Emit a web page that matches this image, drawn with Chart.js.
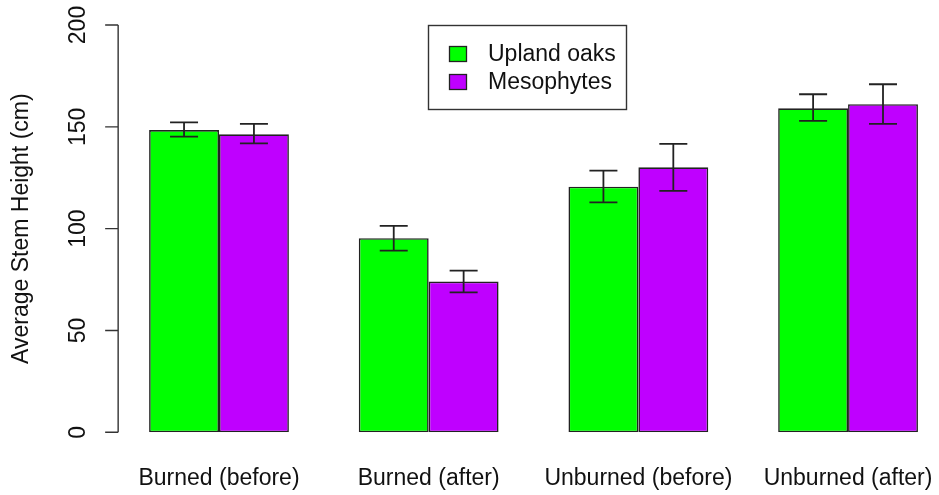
<!DOCTYPE html>
<html>
<head>
<meta charset="utf-8">
<script src="https://cdn.jsdelivr.net/npm/chart.js@4/dist/chart.umd.min.js"></script>
<style>
body{margin:0;overflow:hidden;background:#fff}
</style>
</head>
<body>
<canvas id="barChart" width="980" height="495"></canvas>
<script>
var groups=['Burned (before)','Burned (after)','Unburned (before)','Unburned (after)']
var seriesNames=['Upland oaks','Mesophytes']
var oaks=[148.4,95.3,120.6,159.1]
var oaksLow=[145.2,89.2,112.9,152.9]
var oaksHigh=[152.2,101.4,128.5,166.0]
var meso=[146.3,74.0,130.1,161.1]
var mesoLow=[141.9,68.7,118.5,151.4]
var mesoHigh=[151.4,79.4,141.6,170.9]
var yTicks=[0,50,100,150,200]

var colors=['#00ff00','#bf00ff']
var font="'Liberation Sans', Arial, sans-serif"
var errLow=[oaksLow,mesoLow]
var errHigh=[oaksHigh,mesoHigh]

// R style y axis: line, outward ticks, vertical labels
const rAxis={
	id:'rAxis',
	afterDraw(chart){
		var ctx=chart.ctx
		var y=chart.scales.y
		var x0=y.right+4
		ctx.save()
		ctx.strokeStyle='#333'
		ctx.lineWidth=1.4
		ctx.beginPath()
		ctx.moveTo(x0,y.getPixelForValue(yTicks[0]))
		ctx.lineTo(x0,y.getPixelForValue(yTicks[yTicks.length-1]))
		yTicks.map(v=>{
			var py=y.getPixelForValue(v)
			ctx.moveTo(x0,py)
			ctx.lineTo(x0-13,py)
		})
		ctx.stroke()
		ctx.fillStyle='#111'
		ctx.font='23px '+font
		ctx.textAlign='center'
		ctx.textBaseline='alphabetic'
		yTicks.map(v=>{
			ctx.save()
			ctx.translate(85,y.getPixelForValue(v))
			ctx.rotate(-Math.PI/2)
			ctx.fillText(String(v),0,0)
			ctx.restore()
		})
		ctx.restore()
	}
}

// error bars from the low/high arrays
const errorBars={
	id:'errorBars',
	afterDatasetsDraw(chart){
		var ctx=chart.ctx
		var y=chart.scales.y
		ctx.save()
		ctx.strokeStyle='#222'
		ctx.lineWidth=1.8
		chart.data.datasets.forEach((ds,d)=>{
			chart.getDatasetMeta(d).data.forEach((bar,i)=>{
				var top=y.getPixelForValue(errHigh[d][i])
				var bot=y.getPixelForValue(errLow[d][i])
				ctx.beginPath()
				ctx.moveTo(bar.x,top)
				ctx.lineTo(bar.x,bot)
				ctx.moveTo(bar.x-14,top)
				ctx.lineTo(bar.x+14,top)
				ctx.moveTo(bar.x-14,bot)
				ctx.lineTo(bar.x+14,bot)
				ctx.stroke()
			})
		})
		ctx.restore()
	}
}

// boxed legend like R's legend()
const boxLegend={
	id:'boxLegend',
	afterDraw(chart){
		var ctx=chart.ctx
		ctx.save()
		ctx.strokeStyle='#333'
		ctx.lineWidth=1.4
		ctx.strokeRect(428.5,25.5,198,84)
		ctx.font='23px '+font
		ctx.textBaseline='middle'
		ctx.textAlign='left'
		chart.data.datasets.forEach((ds,d)=>{
			var cy=54+d*28
			ctx.fillStyle=ds.backgroundColor
			ctx.fillRect(449.5,cy-7.5,17,15)
			ctx.strokeStyle='#222'
			ctx.lineWidth=1.3
			ctx.strokeRect(449.5,cy-7.5,17,15)
			ctx.fillStyle='#111'
			ctx.fillText(ds.label,488,cy+1)
		})
		ctx.restore()
	}
}

new Chart(document.getElementById('barChart'),{
	type:'bar',
	data:{
		labels:groups,
		datasets:[{
			label:seriesNames[0],
			data:oaks,
			backgroundColor:colors[0],
			borderColor:'#222',
			borderWidth:1.6,
			borderSkipped:false
		},{
			label:seriesNames[1],
			data:meso,
			backgroundColor:colors[1],
			borderColor:'#222',
			borderWidth:1.6,
			borderSkipped:false
		}]
	},
	options:{
		responsive:false,
		devicePixelRatio:1,
		animation:false,
		layout:{padding:{top:25,right:27.1,bottom:0,left:0}},
		datasets:{bar:{barPercentage:1,categoryPercentage:2/3}},
		plugins:{legend:{display:false},tooltip:{enabled:false}},
		scales:{
			x:{
				grid:{display:false,drawTicks:false},
				border:{display:false},
				ticks:{color:'#111',font:{family:font,size:23},padding:33,maxRotation:0,autoSkip:false},
				afterFit(scale){scale.height=62.7}
			},
			y:{
				min:0,max:200,
				ticks:{display:false,stepSize:50},
				grid:{display:false},
				border:{display:false},
				title:{display:true,text:'Average Stem Height (cm)',color:'#111',font:{family:font,size:23},padding:{top:8,bottom:0}},
				afterFit(scale){scale.width=114.15}
			}
		}
	},
	plugins:[rAxis,errorBars,boxLegend]
})
</script>
</body>
</html>
